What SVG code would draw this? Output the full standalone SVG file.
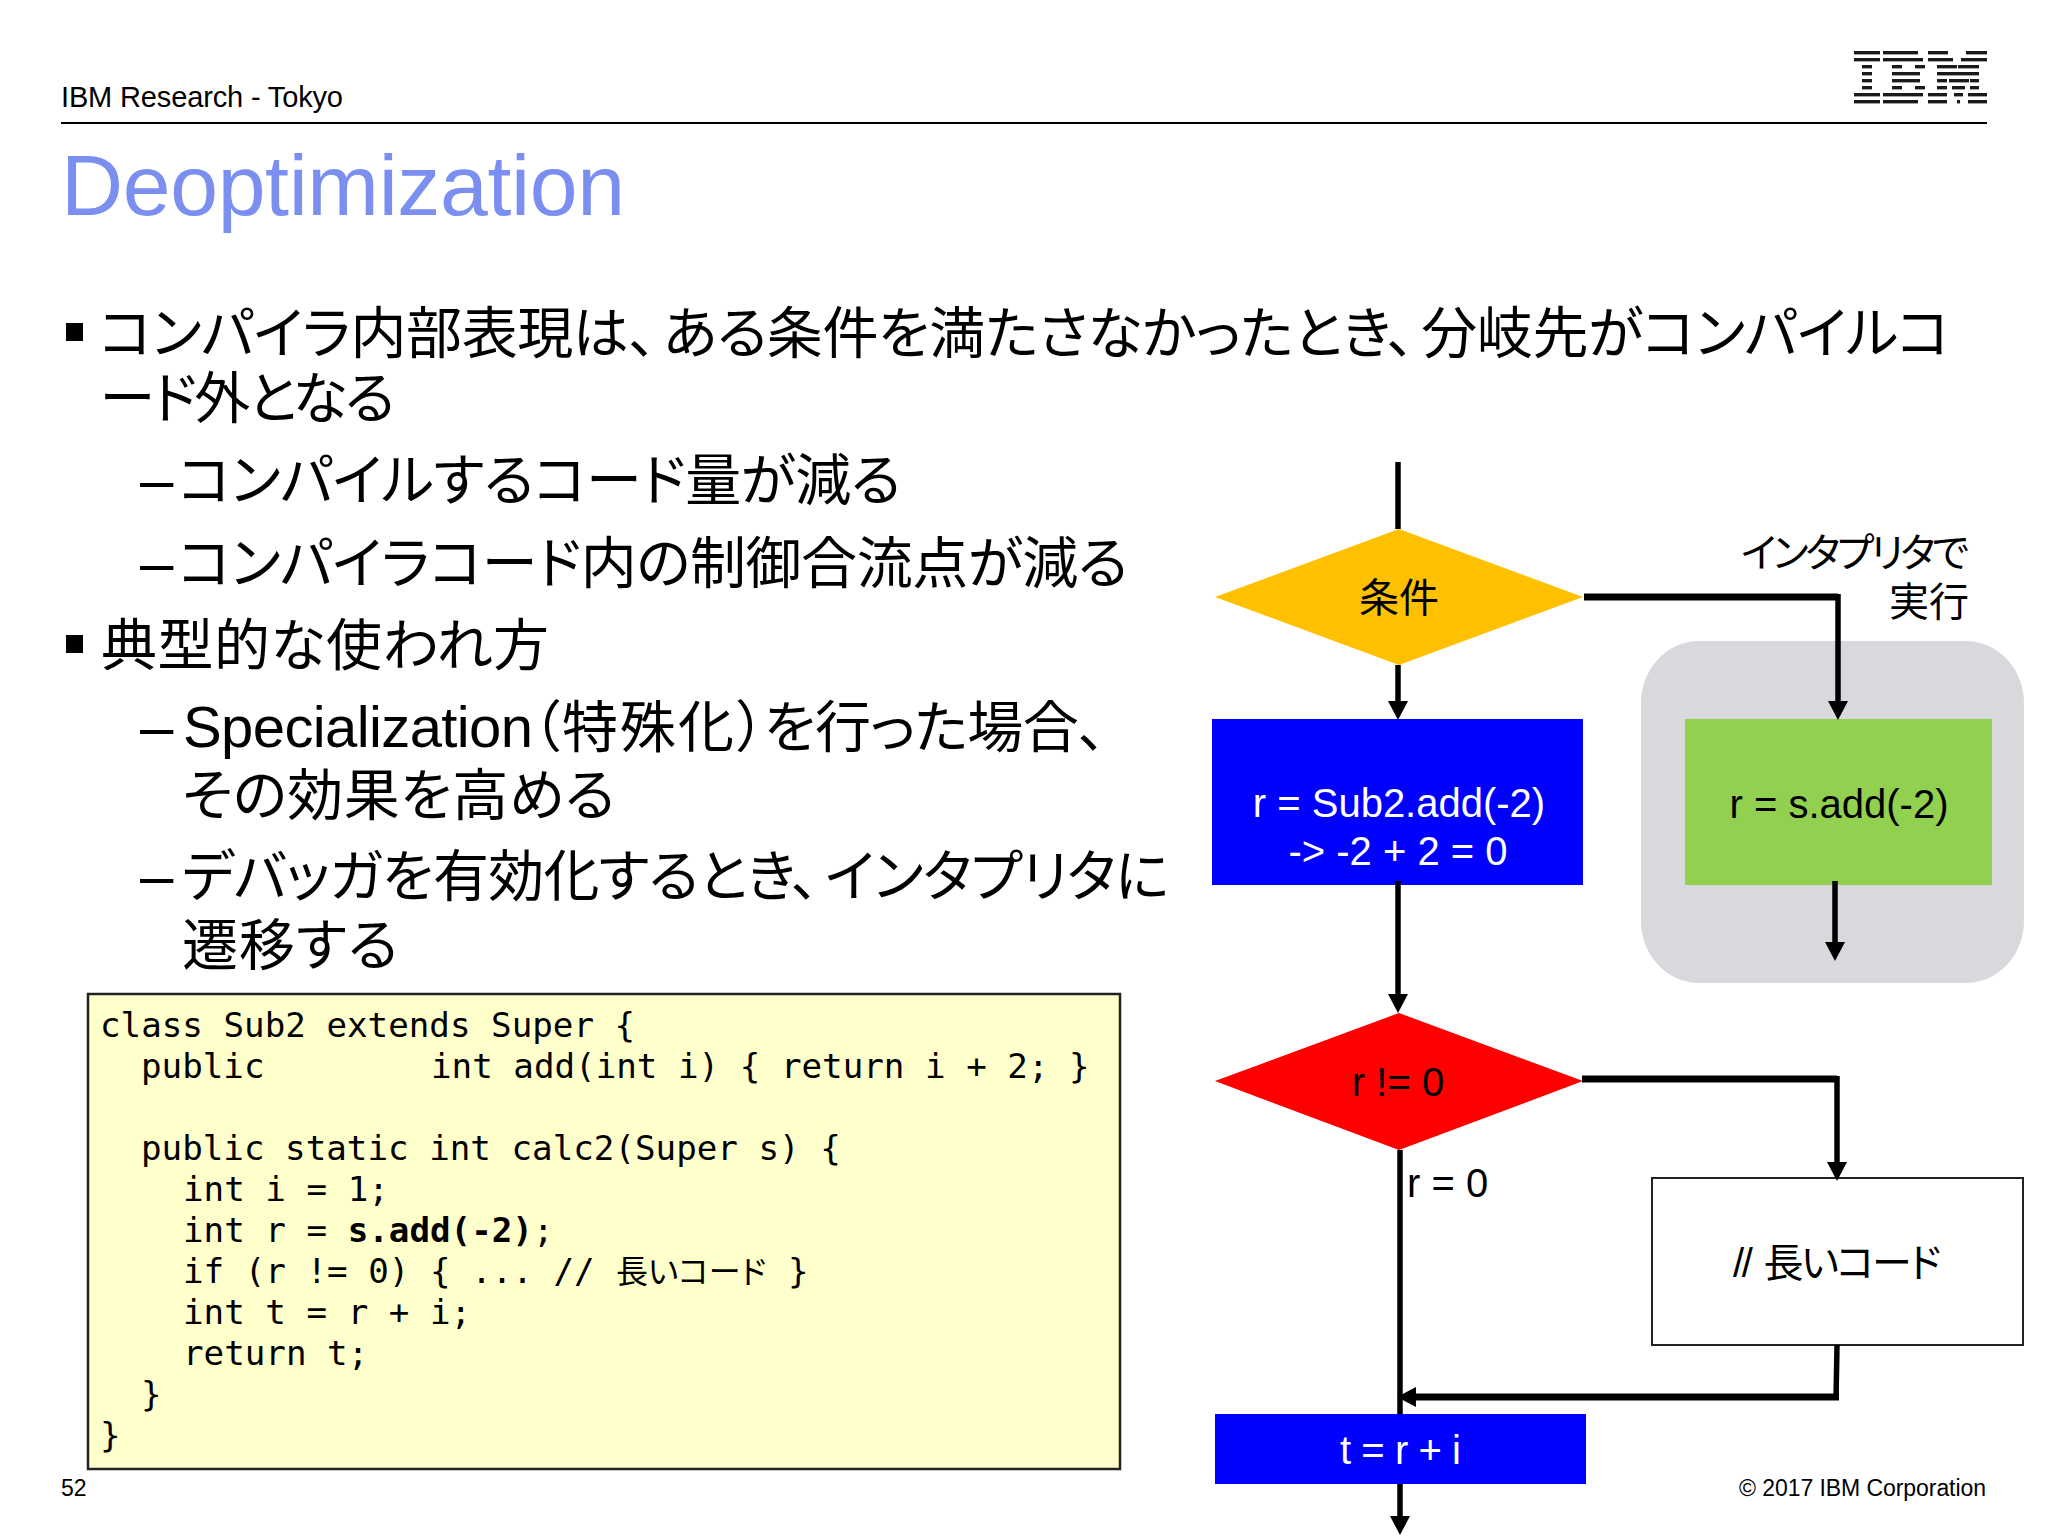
<svg xmlns="http://www.w3.org/2000/svg" width="2048" height="1536" viewBox="0 0 2048 1536">
<style>
text{font-family:"Liberation Sans","Noto Sans CJK JP",sans-serif;fill:#000}
.j{font-family:"Noto Sans CJK JP",sans-serif;font-feature-settings:"palt";font-size:56px}
.d{font-family:"Liberation Sans",sans-serif;font-size:60px}
.l{font-size:40px}
.f{font-size:40px;font-feature-settings:"palt";font-family:"Liberation Sans","Noto Sans CJK JP",sans-serif}
.w{fill:#fff}
.c{font-family:"DejaVu Sans Mono","Noto Sans CJK JP",monospace;font-size:34.2px}
.cj{font-family:"Noto Sans CJK JP",sans-serif;font-size:32px;font-feature-settings:"palt"}
.m{text-anchor:middle}
.v{fill:none;stroke:#000;stroke-width:5.5}
.h{fill:none;stroke:#000;stroke-width:7}
.ar{marker-end:url(#a)}
.lg rect{fill:#1a1a1a}
</style>
<defs>
<marker id="a" markerUnits="userSpaceOnUse" markerWidth="20" markerHeight="22" refX="1" refY="10" orient="auto"><path d="M0 0L19 10L0 20Z" fill="#000"/></marker>
</defs>
<rect width="2048" height="1536" fill="#fff"/>
<g id="header">
<text x="61" y="107" font-size="29" textLength="282">IBM Research - Tokyo</text>
<rect x="61" y="122" width="1926" height="2" fill="#000"/>
<g class="lg" id="ibm-logo">
<rect x="1854" y="51" width="26" height="3.4"/><rect x="1883" y="51" width="35" height="3.4"/><rect x="1928" y="51" width="20" height="3.4"/><rect x="1966" y="51" width="21" height="3.4"/>
<rect x="1854" y="58" width="26" height="3.4"/><rect x="1883" y="58" width="40" height="3.4"/><rect x="1928" y="58" width="25" height="3.4"/><rect x="1961" y="58" width="26" height="3.4"/>
<rect x="1862" y="65" width="10" height="3.4"/><rect x="1892" y="65" width="10" height="3.4"/><rect x="1915" y="65" width="10" height="3.4"/><rect x="1937" y="65" width="20" height="3.4"/><rect x="1958" y="65" width="21" height="3.4"/>
<rect x="1862" y="72" width="10" height="3.4"/><rect x="1892" y="72" width="28" height="3.4"/><rect x="1937" y="72" width="42" height="3.4"/>
<rect x="1862" y="79" width="10" height="3.4"/><rect x="1892" y="79" width="28" height="3.4"/><rect x="1937" y="79" width="10" height="3.4"/><rect x="1949" y="79" width="20" height="3.4"/><rect x="1970" y="79" width="9" height="3.4"/>
<rect x="1862" y="86" width="10" height="3.4"/><rect x="1892" y="86" width="10" height="3.4"/><rect x="1915" y="86" width="10" height="3.4"/><rect x="1937" y="86" width="10" height="3.4"/><rect x="1952" y="86" width="13" height="3.4"/><rect x="1970" y="86" width="9" height="3.4"/>
<rect x="1854" y="93" width="26" height="3.4"/><rect x="1883" y="93" width="40" height="3.4"/><rect x="1928" y="93" width="19" height="3.4"/><rect x="1954" y="93" width="9" height="3.4"/><rect x="1968" y="93" width="19" height="3.4"/>
<rect x="1854" y="100" width="26" height="3.4"/><rect x="1883" y="100" width="35" height="3.4"/><rect x="1928" y="100" width="19" height="3.4"/><rect x="1957" y="100" width="3" height="3.4"/><rect x="1968" y="100" width="19" height="3.4"/>
</g>
<text x="61" y="215" font-size="86" style="fill:#7b8ff0" textLength="564">Deoptimization</text>
</g>
<g id="body">
<rect x="66" y="323" width="17" height="18"/>
<text class="j" x="99" y="353" textLength="1851">コンパイラ内部表現は、<tspan dx="7">ある条件を満たさなかったとき、</tspan><tspan dx="7">分岐先がコンパイルコ</tspan></text>
<text class="j" x="100" y="418" textLength="295">ード外となる</text>
<text class="d" x="140" y="500">–</text>
<text class="j" x="178" y="500" textLength="723">コンパイルするコード量が減る</text>
<text class="d" x="140" y="583">–</text>
<text class="j" x="178" y="583" textLength="950">コンパイラコード内の制御合流点が減る</text>
<rect x="66" y="635" width="17" height="18"/>
<text class="j" x="101" y="665" textLength="448">典型的な使われ方</text>
<text class="d" x="140" y="747">–</text>
<text x="183" y="747" font-size="58" textLength="350">Specialization</text>
<text class="j" x="532" y="747">（</text>
<text class="j" x="562" y="747" textLength="172">特殊化</text>
<text class="j" x="737" y="747">）</text>
<text class="j" x="764" y="747" textLength="342">を行った場合、</text>
<text class="j" x="182" y="815" textLength="433">その効果を高める</text>
<text class="d" x="140" y="896">–</text>
<text class="j" x="182" y="896" textLength="987">デバッガを有効化するとき、<tspan dx="7">インタプリタに</tspan></text>
<text class="j" x="182" y="965" textLength="216">遷移する</text>
</g>
<g id="code">
<rect x="88" y="994" width="1032" height="475" fill="#ffc" stroke="#222" stroke-width="2.5"/>
<text class="c" x="100" y="1037">class Sub2 extends Super {</text>
<text class="c" x="141" y="1078">public</text>
<text class="c" x="431" y="1078">int add(int i) { return i + 2; }</text>
<text class="c" x="141" y="1160">public static int calc2(Super s) {</text>
<text class="c" x="183" y="1201">int i = 1;</text>
<text class="c" x="183" y="1242">int r = <tspan font-weight="700">s.add(-2)</tspan>;</text>
<text class="c" x="183" y="1283">if (r != 0) { ... //</text>
<text class="cj" x="616" y="1283" textLength="150">長いコード</text>
<text class="c" x="788" y="1283">}</text>
<text class="c" x="183" y="1324">int t = r + i;</text>
<text class="c" x="183" y="1365">return t;</text>
<text class="c" x="141" y="1406">}</text>
<text class="c" x="100" y="1447">}</text>
</g>
<g id="footer">
<text x="61" y="1496" font-size="23">52</text>
<text x="1986" y="1496" font-size="23" text-anchor="end" textLength="247">© 2017 IBM Corporation</text>
</g>
<g id="interpreter-region"><rect x="1641" y="641" width="383" height="342" rx="58" ry="62" fill="#d9d8dc"/></g>
<g id="node-cond">
<polygon points="1399,529 1583,597 1399,665 1215,597" fill="#ffc000"/>
<text class="f m" x="1399" y="612">条件</text>
</g>
<g id="node-sub2">
<rect x="1212" y="719" width="371" height="166" fill="#00f"/>
<text class="l w m" x="1399" y="817">r = Sub2.add(-2)</text>
<text class="l w m" x="1398" y="865">-&gt; -2 + 2 = 0</text>
</g>
<g id="node-interp">
<rect x="1685" y="719" width="307" height="166" fill="#92d050"/>
<text class="l m" x="1839" y="818">r = s.add(-2)</text>
</g>
<g id="label-interp">
<text class="f" x="1969" y="567" text-anchor="end" textLength="228">インタプリタで</text>
<text class="f" x="1969" y="616" text-anchor="end">実行</text>
</g>
<g id="node-rne0">
<polygon points="1399,1013 1583,1081 1399,1150 1215,1081" fill="#f00"/>
<text class="l m" x="1398" y="1096">r != 0</text>
</g>
<text class="l" id="label-r0" x="1407" y="1197">r = 0</text>
<g id="node-long">
<rect x="1652" y="1178" width="371" height="167" fill="#fff" stroke="#222" stroke-width="2"/>
<text class="f" x="1733" y="1277" textLength="208">// <tspan dx="4">長いコード</tspan></text>
</g>
<g id="node-t">
<rect x="1215" y="1414" width="371" height="70" fill="#00f"/>
<text class="l w" x="1340" y="1464" textLength="121">t = r + i</text>
</g>
<g id="connectors">
<path class="v" d="M1398 462V529"/>
<path class="v ar" d="M1398 665V702"/>
<path class="h" d="M1584 597H1838"/>
<path class="v ar" d="M1838 594V702"/>
<path class="v ar" d="M1835 881V943"/>
<path class="v ar" d="M1398 881V995"/>
<path class="h" d="M1582 1079H1837"/>
<path class="v ar" d="M1837 1076V1163"/>
<path class="v" d="M1400 1150V1414"/>
<path class="v" d="M1837 1345L1836 1400"/>
<path class="h ar" d="M1839 1397H1415"/>
<path class="v ar" d="M1400 1484V1517"/>
</g>
</svg>
